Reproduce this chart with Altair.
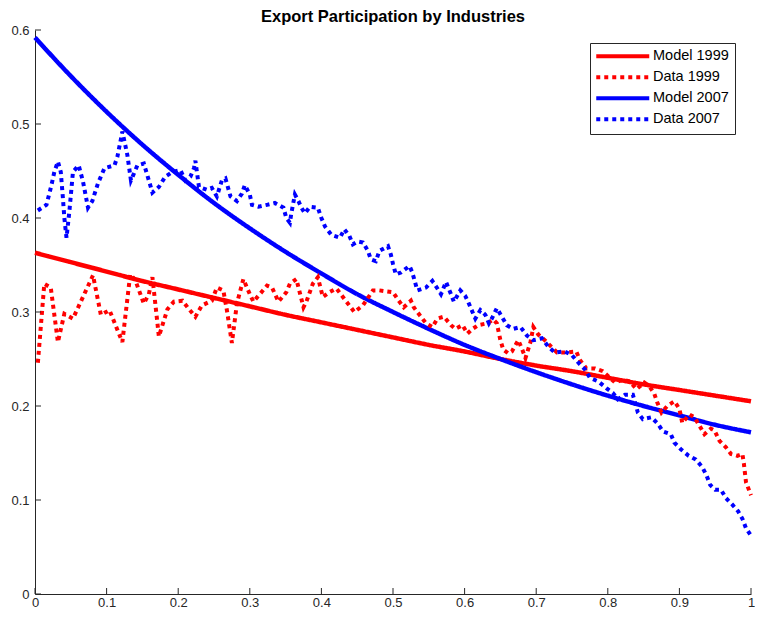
import altair as alt
import pandas as pd

chart_title = "Export Participation by Industries"
series_names = ["Model 1999", "Data 1999", "Model 2007", "Data 2007"]
series_colors = ["#ff0000", "#ff0000", "#0000ff", "#0000ff"]
series_dashes = [[1, 0], [4, 4], [1, 0], [4, 4]]

x_ticks = [0.0, 0.1, 0.2, 0.3, 0.4, 0.5, 0.6, 0.7, 0.8, 0.9, 1.0]
y_ticks = [0.0, 0.1, 0.2, 0.3, 0.4, 0.5, 0.6]

model_x = [0.00, 0.05, 0.10, 0.15, 0.20, 0.25, 0.30, 0.35, 0.40, 0.45, 0.50,
           0.55, 0.60, 0.65, 0.70, 0.75, 0.80, 0.85, 0.90, 0.95, 1.00]
model_1999 = [0.363, 0.353, 0.343, 0.333, 0.324, 0.315, 0.306, 0.297, 0.289, 0.281, 0.273,
              0.265, 0.258, 0.250, 0.243, 0.237, 0.230, 0.223, 0.217, 0.211, 0.205]
model_2007 = [0.592, 0.551, 0.513, 0.478, 0.446, 0.416, 0.389, 0.364, 0.341, 0.319, 0.300,
              0.282, 0.265, 0.250, 0.236, 0.223, 0.211, 0.200, 0.190, 0.180, 0.172]

data_1999_x = [0.004, 0.013, 0.022, 0.032, 0.041, 0.053, 0.081, 0.092, 0.104, 0.122,
               0.133, 0.140, 0.152, 0.159, 0.164, 0.173, 0.185, 0.194, 0.206, 0.215,
               0.224, 0.233, 0.247, 0.254, 0.263, 0.268, 0.275, 0.282, 0.291, 0.300,
               0.305, 0.314, 0.324, 0.331, 0.340, 0.351, 0.356, 0.365, 0.375, 0.379,
               0.388, 0.395, 0.402, 0.411, 0.421, 0.430, 0.439, 0.446, 0.458, 0.472,
               0.481, 0.490, 0.500, 0.508, 0.515, 0.525, 0.529, 0.539, 0.546, 0.555,
               0.562, 0.571, 0.581, 0.587, 0.597, 0.604, 0.611, 0.619, 0.632, 0.640,
               0.645, 0.650, 0.654, 0.661, 0.666, 0.675, 0.680, 0.685, 0.692, 0.696,
               0.703, 0.712, 0.729, 0.743, 0.756, 0.761, 0.770, 0.782, 0.793, 0.810,
               0.821, 0.831, 0.840, 0.851, 0.858, 0.865, 0.869, 0.875, 0.883, 0.893,
               0.900, 0.904, 0.914, 0.921, 0.928, 0.935, 0.944, 0.949, 0.956, 0.965,
               0.972, 0.981, 0.988, 0.990, 0.993, 1.000]
data_1999_y = [0.246, 0.330, 0.326, 0.268, 0.298, 0.293, 0.339, 0.297, 0.302, 0.268,
               0.340, 0.334, 0.309, 0.319, 0.337, 0.274, 0.303, 0.311, 0.312, 0.303,
               0.295, 0.307, 0.312, 0.326, 0.323, 0.302, 0.267, 0.309, 0.335, 0.319,
               0.311, 0.319, 0.328, 0.326, 0.311, 0.321, 0.330, 0.335, 0.305, 0.311,
               0.330, 0.337, 0.316, 0.321, 0.325, 0.316, 0.307, 0.300, 0.307, 0.323,
               0.323, 0.322, 0.321, 0.312, 0.305, 0.312, 0.305, 0.295, 0.288, 0.284,
               0.293, 0.295, 0.286, 0.282, 0.286, 0.277, 0.282, 0.286, 0.288, 0.292,
               0.288, 0.270, 0.260, 0.256, 0.258, 0.270, 0.261, 0.251, 0.268, 0.284,
               0.276, 0.270, 0.257, 0.257, 0.258, 0.249, 0.240, 0.240, 0.237, 0.225,
               0.228, 0.226, 0.218, 0.225, 0.221, 0.213, 0.204, 0.193, 0.200, 0.205,
               0.197, 0.182, 0.191, 0.188, 0.179, 0.170, 0.176, 0.174, 0.163, 0.156,
               0.149, 0.147, 0.149, 0.139, 0.119, 0.105]

data_2007_x = [0.004, 0.016, 0.023, 0.027, 0.032, 0.036, 0.039, 0.041, 0.044, 0.048,
               0.053, 0.061, 0.067, 0.074, 0.080, 0.088, 0.097, 0.111, 0.115, 0.120,
               0.122, 0.129, 0.134, 0.138, 0.143, 0.152, 0.159, 0.164, 0.173, 0.182,
               0.192, 0.203, 0.210, 0.217, 0.222, 0.224, 0.229, 0.240, 0.247, 0.254,
               0.261, 0.266, 0.273, 0.282, 0.289, 0.293, 0.300, 0.303, 0.312, 0.324,
               0.335, 0.347, 0.351, 0.356, 0.358, 0.363, 0.368, 0.372, 0.377, 0.384,
               0.395, 0.400, 0.405, 0.414, 0.426, 0.432, 0.439, 0.444, 0.451, 0.458,
               0.465, 0.469, 0.476, 0.481, 0.493, 0.497, 0.500, 0.504, 0.511, 0.523,
               0.527, 0.534, 0.546, 0.555, 0.562, 0.567, 0.574, 0.581, 0.585, 0.594,
               0.601, 0.606, 0.611, 0.615, 0.622, 0.629, 0.634, 0.638, 0.645, 0.652,
               0.659, 0.668, 0.678, 0.687, 0.696, 0.708, 0.717, 0.726, 0.740, 0.750,
               0.759, 0.768, 0.775, 0.787, 0.798, 0.807, 0.814, 0.824, 0.835, 0.842,
               0.849, 0.861, 0.870, 0.877, 0.888, 0.893, 0.902, 0.913, 0.923, 0.932,
               0.938, 0.943, 0.950, 0.958, 0.965, 0.974, 0.982, 0.988, 0.993, 1.000]
data_2007_y = [0.408, 0.414, 0.435, 0.449, 0.460, 0.449, 0.421, 0.400, 0.379, 0.407,
               0.449, 0.456, 0.439, 0.411, 0.418, 0.437, 0.453, 0.456, 0.465, 0.484,
               0.492, 0.467, 0.440, 0.447, 0.456, 0.458, 0.440, 0.427, 0.433, 0.444,
               0.449, 0.451, 0.440, 0.444, 0.453, 0.461, 0.433, 0.430, 0.432, 0.423,
               0.440, 0.442, 0.423, 0.418, 0.426, 0.435, 0.425, 0.414, 0.412, 0.414,
               0.416, 0.411, 0.400, 0.395, 0.405, 0.425, 0.418, 0.411, 0.405, 0.412,
               0.411, 0.400, 0.391, 0.382, 0.379, 0.388, 0.381, 0.372, 0.375, 0.374,
               0.365, 0.356, 0.354, 0.365, 0.370, 0.361, 0.351, 0.340, 0.342, 0.349,
               0.342, 0.323, 0.326, 0.333, 0.325, 0.319, 0.332, 0.319, 0.311, 0.323,
               0.317, 0.309, 0.300, 0.293, 0.302, 0.297, 0.288, 0.293, 0.304, 0.295,
               0.286, 0.282, 0.284, 0.275, 0.270, 0.272, 0.263, 0.257, 0.258, 0.254,
               0.246, 0.239, 0.230, 0.226, 0.219, 0.214, 0.207, 0.212, 0.212, 0.193,
               0.186, 0.188, 0.181, 0.173, 0.170, 0.161, 0.154, 0.147, 0.143, 0.135,
               0.126, 0.116, 0.111, 0.111, 0.102, 0.095, 0.088, 0.080, 0.070, 0.062]

rows_model = []
for xv, a, b in zip(model_x, model_1999, model_2007):
    rows_model.append({"x": xv, "y": a, "series": "Model 1999"})
    rows_model.append({"x": xv, "y": b, "series": "Model 2007"})
df_model = pd.DataFrame(rows_model)

rows_data = []
for xv, yv in zip(data_1999_x, data_1999_y):
    rows_data.append({"x": xv, "y": yv, "series": "Data 1999"})
for xv, yv in zip(data_2007_x, data_2007_y):
    rows_data.append({"x": xv, "y": yv, "series": "Data 2007"})
df_data = pd.DataFrame(rows_data)

df_xt = pd.DataFrame({"x": x_ticks})
df_yt = pd.DataFrame({"y": y_ticks})

FONT = "Liberation Sans"
AX = "#262626"

xscale = alt.Scale(domain=[0, 1], nice=False, zero=False)
yscale = alt.Scale(domain=[0, 0.6], nice=False)

legend = alt.Legend(
    title=None, orient="none", legendX=555, legendY=13,
    symbolType="M-5.3,0H5.3", symbolSize=100, symbolStrokeWidth=4,
    symbolOffset=19.5, labelOffset=23,
    labelFont=FONT, labelFontSize=14.5, labelColor="#000000",
    rowPadding=4, padding=6, fillColor="white", strokeColor=AX,
)

color = alt.Color("series:N", scale=alt.Scale(domain=series_names, range=series_colors), legend=legend)
dash = alt.StrokeDash("series:N", scale=alt.Scale(domain=series_names, range=series_dashes), legend=legend)

x_main = alt.X("x:Q", scale=xscale, axis=alt.Axis(
    orient="bottom", values=x_ticks, format="~g", title=None, grid=False,
    ticks=False, domainColor=AX, labelColor=AX, labelFont=FONT, labelFontSize=13,
    labelPadding=2, labelFlush=False))
y_main = alt.Y("y:Q", scale=yscale, axis=alt.Axis(
    orient="left", values=y_ticks, format="~g", title=None, grid=False,
    ticks=False, domainColor=AX, labelColor=AX, labelFont=FONT, labelFontSize=13,
    labelPadding=6, labelFlush=False, minExtent=0))

model_layer = alt.Chart(df_model).mark_line(strokeWidth=4.5, interpolate="monotone").encode(
    x=x_main, y=y_main, color=color, strokeDash=dash)

data_layer = alt.Chart(df_data).mark_line(strokeWidth=4, strokeCap="butt").encode(
    x=alt.X("x:Q", scale=xscale), y=alt.Y("y:Q", scale=yscale),
    color=color, strokeDash=dash)

xtick_layer = alt.Chart(df_xt).mark_tick(
    orient="vertical", size=6, thickness=1, color=AX, yOffset=-3, opacity=1
).encode(x=alt.X("x:Q", scale=xscale), y=alt.datum(0))

ytick_layer = alt.Chart(df_yt).mark_tick(
    orient="horizontal", size=6, thickness=1, color=AX, xOffset=3, opacity=1
).encode(y=alt.Y("y:Q", scale=yscale), x=alt.datum(0))

chart = alt.layer(model_layer, data_layer, xtick_layer, ytick_layer).properties(
    width=716, height=564,
    title=alt.TitleParams(chart_title, font=FONT, fontSize=16.5, fontWeight="bold",
                          color="#000000", anchor="middle", offset=-1),
    autosize=alt.AutoSizeParams(type="none"),
    padding={"left": 27, "top": 22, "right": 4, "bottom": 16},
).configure_view(stroke=None)

chart.save("out.html", embed_options={"renderer": "svg", "actions": False})
